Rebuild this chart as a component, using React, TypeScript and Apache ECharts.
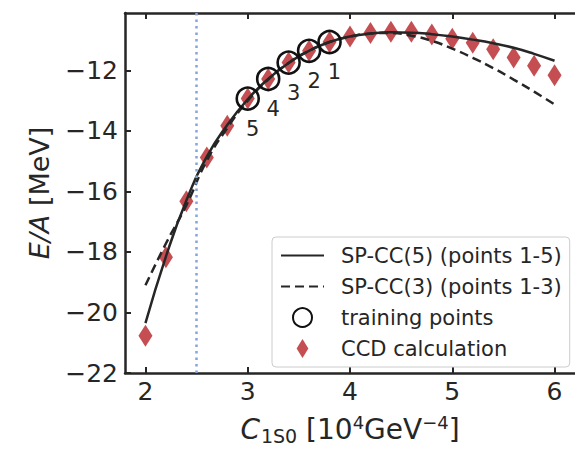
import React, { useEffect, useRef } from "react";
import * as echarts from "echarts";

const ccdX = [2.0, 2.2, 2.4, 2.6, 2.8, 3.0, 3.2, 3.4, 3.6, 3.8, 4.0, 4.2, 4.4, 4.6, 4.8, 5.0, 5.2, 5.4, 5.6, 5.8, 6.0];
const ccdY = [-20.77, -18.17, -16.32, -14.88, -13.83, -12.93, -12.28, -11.74, -11.35, -11.06, -10.88, -10.76, -10.72, -10.72, -10.81, -10.95, -11.08, -11.3, -11.57, -11.84, -12.16];

const curveX = [2.0, 2.2, 2.4, 2.6, 2.8, 3.0, 3.2, 3.4, 3.6, 3.8, 4.0, 4.2, 4.4, 4.6, 4.8, 5.0, 5.2, 5.4, 5.6, 5.8, 6.0];
const spcc5Y = [-20.35, -18.15, -16.3, -14.85, -13.8, -12.95, -12.28, -11.75, -11.35, -11.06, -10.88, -10.78, -10.74, -10.75, -10.8, -10.88, -10.98, -11.1, -11.25, -11.45, -11.68];
const spcc3Y = [-19.1, -17.72, -16.45, -14.98, -13.9, -13.0, -12.3, -11.75, -11.35, -11.06, -10.88, -10.78, -10.76, -10.85, -11.02, -11.28, -11.58, -11.92, -12.3, -12.7, -13.12];

const trainX = [3.0, 3.2, 3.4, 3.6, 3.8];
const trainY = [-12.93, -12.28, -11.74, -11.35, -11.06];
const trainLabels = ["5", "4", "3", "2", "1"];

const xTicks = [2, 3, 4, 5, 6];
const yTicks = [-22, -20, -18, -16, -14, -12];
const cutoffX = 2.5;

const seriesNames = ["SP-CC(5) (points 1-5)", "SP-CC(3) (points 1-3)", "training points", "CCD calculation"];

const FONT = "DejaVu Sans";
const INK = "#262626";
const RED = "#c44e52";
const DIAMOND = "path://M0,-1L0.62,0L0,1L-0.62,0Z";

export default function App() {
  const ref = useRef<HTMLDivElement>(null);
  useEffect(() => {
    if (!ref.current) return;
    const chart = echarts.init(ref.current, null, { renderer: "svg" });
    const axisLine = { show: true, onZero: false, lineStyle: { color: INK, width: 2.5 } };
    const tick = { show: true, inside: true, length: 6, lineStyle: { color: INK, width: 2 } };
    chart.setOption({
      animation: false,
      textStyle: { fontFamily: FONT },
      grid: { left: 125, right: -9, top: 13, bottom: 70 },
      xAxis: [
        {
          type: "value",
          min: 1.8,
          max: 6.2,
          axisLine,
          axisTick: { ...tick, customValues: xTicks },
          axisLabel: { customValues: xTicks, fontSize: 25, color: INK, margin: 6, fontFamily: FONT },
          splitLine: { show: false },
          name: "{c|C}{sub|1S0}{n| [10}{sup|4}{n|GeV}{sup|−4}{n|]}",
          nameLocation: "middle",
          nameGap: 40,
          nameTextStyle: {
            fontFamily: FONT,
            color: INK,
            rich: {
              c: { fontSize: 28, fontStyle: "italic", lineHeight: 32, color: INK, fontFamily: FONT },
              n: { fontSize: 28, lineHeight: 32, color: INK, fontFamily: FONT },
              sub: { fontSize: 19, lineHeight: 21, verticalAlign: "bottom", color: INK, fontFamily: FONT, padding: [0, 0, 0, 1] },
              sup: { fontSize: 18, lineHeight: 11, verticalAlign: "top", color: INK, fontFamily: FONT },
            },
          },
        },
        {
          type: "value",
          position: "top",
          min: 1.8,
          max: 6.2,
          axisLine,
          axisTick: { ...tick, customValues: xTicks },
          axisLabel: { show: false },
          splitLine: { show: false },
        },
      ],
      yAxis: {
        type: "value",
        min: -22,
        max: -10.1,
        axisLine,
        axisTick: { ...tick, customValues: yTicks },
        axisLabel: {
          customValues: yTicks,
          fontSize: 25,
          color: INK,
          margin: 7,
          fontFamily: FONT,
          formatter: (v: number) => String(v).replace("-", "−"),
        },
        splitLine: { show: false },
        name: "{i|E/A} [MeV]",
        nameLocation: "middle",
        nameGap: 72,
        nameTextStyle: {
          fontSize: 27,
          color: INK,
          fontFamily: FONT,
          rich: { i: { fontSize: 27, fontStyle: "italic", color: INK, fontFamily: FONT } },
        },
      },
      legend: {
        data: [
          { name: seriesNames[0], itemStyle: { opacity: 0 } },
          { name: seriesNames[1], itemStyle: { opacity: 0 } },
          { name: seriesNames[2] },
          { name: seriesNames[3] },
        ],
        orient: "vertical",
        left: 272,
        top: 237,
        padding: [8, 8, 8, 8],
        itemWidth: 43,
        itemHeight: 19,
        itemGap: 10,
        backgroundColor: "rgba(255,255,255,0.85)",
        borderColor: "#cccccc",
        borderWidth: 1,
        borderRadius: 4,
        textStyle: { fontSize: 21, color: INK, fontFamily: FONT, lineHeight: 21, padding: [0, 0, 0, 12] },
      },
      series: [
        {
          name: seriesNames[3],
          type: "scatter",
          data: ccdX.map((x, i) => [x, ccdY[i]]),
          symbol: DIAMOND,
          symbolSize: [14, 22],
          itemStyle: { color: RED, opacity: 1 },
          z: 2,
          markLine: {
            silent: true,
            symbol: ["none", "none"],
            label: { show: false },
            lineStyle: { color: "#86a3dc", width: 2.5, type: [2.5, 4] },
            data: [{ xAxis: cutoffX }],
          },
        },
        {
          name: seriesNames[0],
          type: "line",
          data: curveX.map((x, i) => [x, spcc5Y[i]]),
          smooth: true,
          showSymbol: false,
          symbol: "none",
          lineStyle: { color: INK, width: 2.5, type: "solid" },
          itemStyle: { color: INK },
          z: 3,
        },
        {
          name: seriesNames[1],
          type: "line",
          data: curveX.map((x, i) => [x, spcc3Y[i]]),
          smooth: true,
          showSymbol: false,
          symbol: "none",
          lineStyle: { color: INK, width: 2.5, type: [9, 5] },
          itemStyle: { color: INK },
          z: 3,
        },
        {
          name: seriesNames[2],
          type: "scatter",
          data: trainX.map((x, i) => ({ value: [x, trainY[i]], name: trainLabels[i] })),
          symbol: "circle",
          symbolSize: 22,
          itemStyle: { color: "rgba(0,0,0,0)", borderColor: "#111111", borderWidth: 2.6, opacity: 1 },
          label: {
            show: true,
            formatter: "{b}",
            position: "inside",
            offset: [5, 30],
            fontSize: 21,
            color: INK,
            fontFamily: FONT,
          },
          z: 4,
        },
      ],
    });
    return () => chart.dispose();
  }, []);
  return <div ref={ref} style={{ width: 575, height: 450, position: "absolute", left: 0, top: 0 }} />;
}
